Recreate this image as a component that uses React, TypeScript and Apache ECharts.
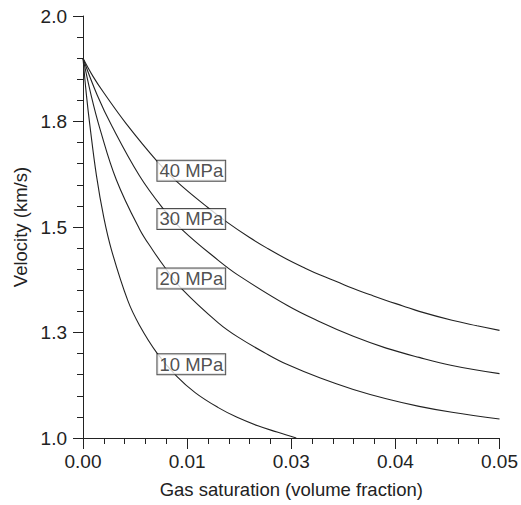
import React, { useEffect, useRef } from "react";
import * as echarts from "echarts";

const xTicks = [0, 0.0125, 0.025, 0.0375, 0.05];
const yTicks = [1.0, 1.25, 1.5, 1.75, 2.0];

const p10X = [0, 0.0004, 0.0008, 0.00162, 0.0025, 0.00344, 0.00537, 0.00676, 0.00893, 0.01126, 0.0135, 0.01624, 0.0185, 0.02099, 0.0233, 0.0256];
const p10Y = [1.9, 1.815, 1.745, 1.621, 1.522, 1.444, 1.326, 1.268, 1.2, 1.146, 1.107, 1.072, 1.049, 1.029, 1.014, 1.0];

const p20X = [0, 0.001, 0.002, 0.004, 0.00676, 0.00838, 0.00984, 0.01189, 0.01624, 0.01862, 0.02217, 0.02454, 0.02849, 0.03245, 0.0364, 0.04035, 0.0443, 0.05];
const p20Y = [1.9, 1.81, 1.735, 1.612, 1.496, 1.445, 1.404, 1.353, 1.273, 1.239, 1.198, 1.174, 1.142, 1.115, 1.093, 1.075, 1.061, 1.045];

const p30X = [0, 0.0017, 0.0035, 0.00676, 0.00952, 0.01189, 0.01624, 0.01862, 0.02454, 0.02849, 0.03245, 0.0364, 0.04035, 0.0443, 0.05];
const p30Y = [1.9, 1.813, 1.738, 1.622, 1.546, 1.494, 1.421, 1.386, 1.314, 1.275, 1.241, 1.213, 1.191, 1.172, 1.1525];

const p40X = [0, 0.0012, 0.0025, 0.00518, 0.00893, 0.0113, 0.01506, 0.01711, 0.02, 0.02217, 0.02454, 0.0265, 0.02849, 0.0305, 0.03245, 0.0344, 0.0364, 0.0384, 0.04036, 0.0443, 0.0473, 0.05];
const p40Y = [1.9, 1.857, 1.818, 1.745, 1.655, 1.607, 1.545, 1.514, 1.475, 1.449, 1.423, 1.404, 1.386, 1.37, 1.354, 1.34, 1.326, 1.313, 1.3, 1.279, 1.266, 1.255];

const curveNames = ["10 MPa", "20 MPa", "30 MPa", "40 MPa"];
const labelX = [0.013, 0.013, 0.013, 0.013];
const labelY = [1.175, 1.378, 1.519, 1.633];

const INK = "#222";
const FONT = "'Liberation Sans', Arial, Helvetica, sans-serif";

function pairs(xs: number[], ys: number[]) {
  return xs.map((x, i) => [x, ys[i]]);
}

export default function App() {
  const ref = useRef<HTMLDivElement>(null);
  useEffect(() => {
    document.body.style.margin = "0";
    const chart = echarts.init(ref.current!, null, { renderer: "svg" });
    const curves = [pairs(p10X, p10Y), pairs(p20X, p20Y), pairs(p30X, p30Y), pairs(p40X, p40Y)];
    const lineSeries = curves.map((d, i) => ({
      type: "line",
      name: curveNames[i],
      data: d,
      smooth: 0.4,
      showSymbol: false,
      symbol: "none",
      lineStyle: { color: INK, width: 1.1 },
      z: 2,
    }));
    const labelSeries = {
      type: "scatter",
      symbolSize: 1,
      itemStyle: { color: "rgba(0,0,0,0)" },
      z: 5,
      data: labelX.map((x, i) => ({
        value: [x, labelY[i]],
        label: {
          show: true,
          position: "inside",
          formatter: curveNames[i],
          color: INK,
          fontFamily: FONT,
          fontSize: 18.5,
          lineHeight: 19,
          backgroundColor: "#fff",
          borderColor: INK,
          borderWidth: 1,
          padding: [1, 2, 0, 2],
        },
      })),
    };
    chart.setOption({
      animation: false,
      textStyle: { fontFamily: FONT },
      grid: { left: 83, right: 16, top: 16, bottom: 67 },
      xAxis: {
        type: "value",
        min: xTicks[0],
        max: xTicks[xTicks.length - 1],
        interval: xTicks[1] - xTicks[0],
        name: "Gas saturation (volume fraction)",
        nameLocation: "middle",
        nameGap: 42,
        nameTextStyle: { color: INK, fontSize: 18.5, fontFamily: FONT },
        axisLine: { lineStyle: { color: INK, width: 1 } },
        axisTick: { show: true, length: 11, lineStyle: { color: INK } },
        minorTick: { show: true, splitNumber: 5, length: 6, lineStyle: { color: INK } },
        splitLine: { show: false },
        axisLabel: {
          color: INK,
          fontSize: 19,
          fontFamily: FONT,
          margin: 14,
          formatter: (v: number) => (Math.round(v * 100 + 1e-6) / 100).toFixed(2),
        },
      },
      yAxis: {
        type: "value",
        min: yTicks[0],
        max: yTicks[yTicks.length - 1],
        interval: yTicks[1] - yTicks[0],
        name: "Velocity (km/s)",
        nameLocation: "middle",
        nameGap: 52,
        nameTextStyle: { color: INK, fontSize: 18.5, fontFamily: FONT },
        axisLine: { show: true, lineStyle: { color: INK, width: 1 } },
        axisTick: { show: true, length: 10, lineStyle: { color: INK } },
        minorTick: { show: true, splitNumber: 5, length: 6, lineStyle: { color: INK } },
        splitLine: { show: false },
        axisLabel: {
          color: INK,
          fontSize: 19,
          fontFamily: FONT,
          margin: 16,
          formatter: (v: number) => (Math.round(v * 10 + 1e-6) / 10).toFixed(1),
        },
      },
      series: [...lineSeries, labelSeries],
    });
    return () => chart.dispose();
  }, []);
  return <div ref={ref} style={{ width: 521, height: 505 }} />;
}
